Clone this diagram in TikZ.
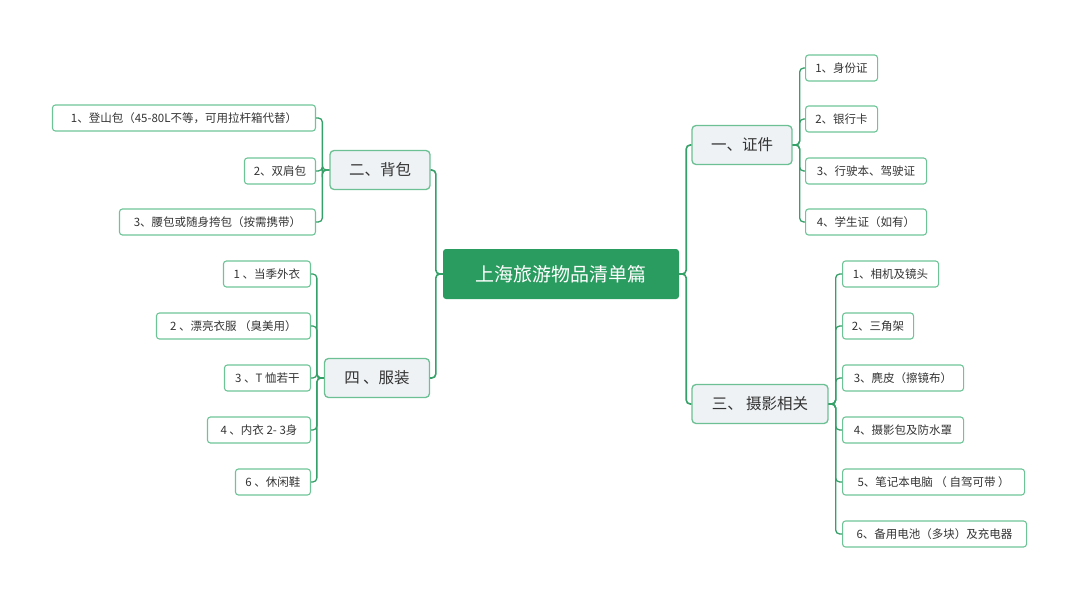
\documentclass[tikz,border=0pt]{standalone}
\usepackage{fontspec}
\setmainfont{Noto Sans CJK SC}
\begin{document}
\begin{tikzpicture}[x=1pt,y=-1pt,
  line/.style={draw=lc,line width=1.6pt,rounded corners=4pt},
  leaf/.style={draw=lb,line width=1.1pt,rounded corners=3pt,minimum height=26pt,inner xsep=6pt,font=\fontsize{11.5}{12}\selectfont,text=tx},
  cat/.style={draw=cb,fill=cf,line width=1.3pt,rounded corners=4pt,minimum height=39pt,font=\fontsize{15.5}{16}\selectfont,text=tx},
  root/.style={fill=rf,rounded corners=3pt,minimum width=236pt,minimum height=50pt,font=\fontsize{19}{20}\selectfont,text=white}]
\definecolor{lc}{HTML}{35A068}
\definecolor{lb}{HTML}{6DC497}
\definecolor{cb}{HTML}{6CC093}
\definecolor{cf}{HTML}{EEF2F5}
\definecolor{rf}{HTML}{2B9C60}
\definecolor{tx}{HTML}{333333}
\useasboundingbox (0,0) rectangle (1080,600);
\node[root] (r) at (561,274) {上海旅游物品清单篇};
\node[cat,minimum width=100pt] (bag) at (380,170) {二、背包};
\node[cat,minimum width=105pt] (clo) at (377,378) {四 、服装};
\node[cat,minimum width=100pt] (cer) at (742,145) {一、证件};
\node[cat,minimum width=136pt] (pho) at (760,404) {三、 摄影相关};
% bag leaves
\node[leaf,minimum width=263pt,anchor=east] (b1) at (316,118) {1、登山包（45-80L不等，可用拉杆箱代替）};
\node[leaf,minimum width=71pt,anchor=east] (b2) at (316,171) {2、双肩包};
\node[leaf,minimum width=196pt,anchor=east] (b3) at (316,222) {3、腰包或随身挎包（按需携带）};
% clothes leaves
\node[leaf,minimum width=87pt,anchor=east] (c1) at (311,274) {1 、当季外衣};
\node[leaf,minimum width=154pt,anchor=east] (c2) at (311,326) {2 、漂亮衣服 （臭美用）};
\node[leaf,minimum width=86pt,anchor=east] (c3) at (311,378) {3 、T 恤若干};
\node[leaf,minimum width=103pt,anchor=east] (c4) at (311,430) {4 、内衣 2- 3身};
\node[leaf,minimum width=75pt,anchor=east] (c6) at (311,482) {6 、休闲鞋};
% cert leaves
\node[leaf,minimum width=72pt,anchor=west] (z1) at (805,68) {1、身份证};
\node[leaf,minimum width=72pt,anchor=west] (z2) at (805,119) {2、银行卡};
\node[leaf,minimum width=121pt,anchor=west] (z3) at (805,171) {3、行驶本、驾驶证};
\node[leaf,minimum width=121pt,anchor=west] (z4) at (805,222) {4、学生证（如有）};
% photo leaves
\node[leaf,minimum width=96pt,anchor=west] (p1) at (842,274) {1、相机及镜头};
\node[leaf,minimum width=71pt,anchor=west] (p2) at (842,326) {2、三角架};
\node[leaf,minimum width=121pt,anchor=west] (p3) at (842,378) {3、麂皮（擦镜布）};
\node[leaf,minimum width=121pt,anchor=west] (p4) at (842,430) {4、摄影包及防水罩};
\node[leaf,minimum width=182pt,anchor=west] (p5) at (842,482) {5、笔记本电脑 （ 自驾可带 ）};
\node[leaf,minimum width=184pt,anchor=west] (p6) at (842,534) {6、备用电池（多块）及充电器};
% root connectors
\foreach \c in {bag,clo} \draw[line] (r.west) -- ++(-7,0) |- (\c.east);
\foreach \c in {cer,pho} \draw[line] (r.east) -- ++(7,0) |- (\c.west);
\foreach \c in {b1,b2,b3} \draw[line,line width=1.3pt] (bag.west) -- ++(-7,0) |- (\c.east);
\foreach \c in {c1,c2,c3,c4,c6} \draw[line,line width=1.3pt] (clo.west) -- ++(-7,0) |- (\c.east);
\foreach \c in {z1,z2,z3,z4} \draw[line,line width=1.3pt] (cer.east) -- ++(7,0) |- (\c.west);
\foreach \c in {p1,p2,p3,p4,p5,p6} \draw[line,line width=1.3pt] (pho.east) -- ++(7,0) |- (\c.west);
\end{tikzpicture}
\end{document}
